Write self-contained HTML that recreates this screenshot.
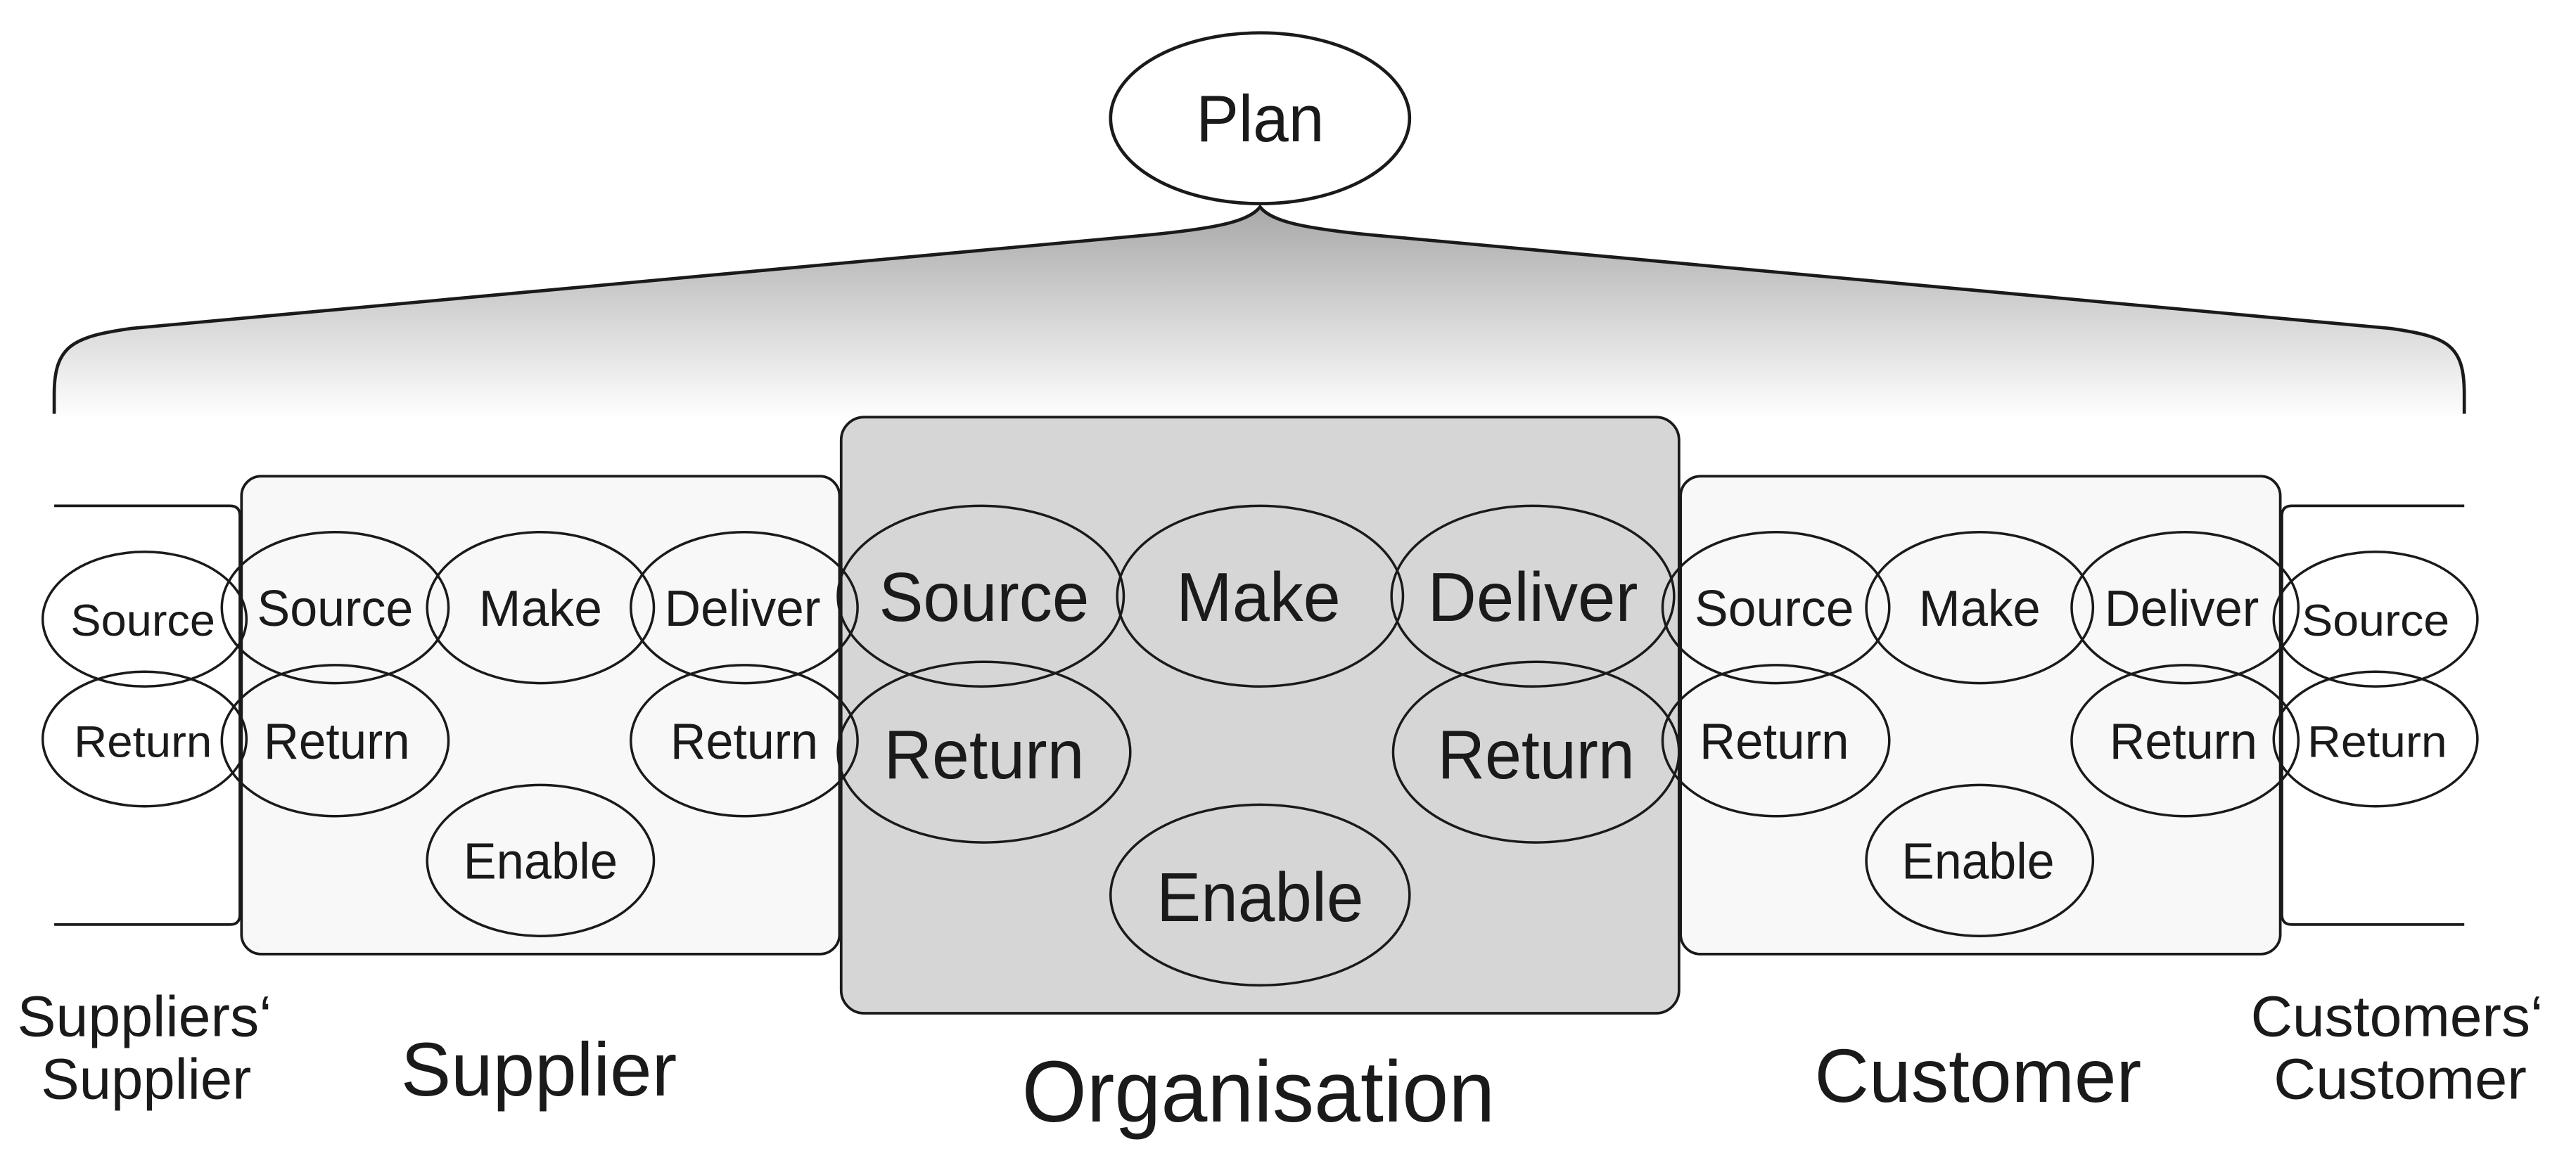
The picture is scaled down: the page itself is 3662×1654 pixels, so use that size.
<!DOCTYPE html>
<html><head><meta charset="utf-8"><style>
html,body{margin:0;padding:0;background:#fff;}
svg{display:block;}
text{font-family:"Liberation Sans",Arial,sans-serif;fill:#1a1a1a;text-anchor:middle;}
</style></head><body>
<svg width="3662" height="1654" viewBox="0 0 1568 708.2" preserveAspectRatio="none" xmlns="http://www.w3.org/2000/svg">
<defs>
<linearGradient id="g" x1="0" y1="126" x2="0" y2="255" gradientUnits="userSpaceOnUse">
<stop offset="0" stop-color="#a8a8a8"/><stop offset="0.5" stop-color="#d4d4d4"/><stop offset="1" stop-color="#ffffff"/>
</linearGradient>
</defs>
<path d="M33,255 L33,240 C33,210 45,205 80,200 L700,143 C740,139 760,135 767,126 C774,135 794,139 834,143 L1455,200 C1490,205 1500,210 1500,240 L1500,255 Z" fill="url(#g)"/>
<path d="M33,252 L33,240 C33,210 45,205 80,200 L700,143 C740,139 760,135 767,126 C774,135 794,139 834,143 L1455,200 C1490,205 1500,210 1500,240 L1500,252" fill="none" stroke="#1a1a1a" stroke-width="2"/>
<ellipse cx="767" cy="72" rx="91" ry="52" fill="#fff" stroke="#1a1a1a" stroke-width="2"/>
<text x="767" y="86" font-size="40" textLength="78" lengthAdjust="spacingAndGlyphs">Plan</text>

<g fill="none" stroke="#1a1a1a" stroke-width="1.6">
<path d="M33,308 L140,308 Q146,308 146,314 L146,557 Q146,563 140,563 L33,563"/>
<path d="M1500,308 L1395,308 Q1389,308 1389,314 L1389,557 Q1389,563 1395,563 L1500,563"/>
</g>
<rect x="147" y="290" width="364" height="291" rx="12" fill="#f7f8f7" stroke="#1a1a1a" stroke-width="1.6"/>
<rect x="1023" y="290" width="365" height="291" rx="12" fill="#f7f8f7" stroke="#1a1a1a" stroke-width="1.6"/>
<rect x="512" y="254" width="510" height="363" rx="14" fill="#d6d6d6" stroke="#1a1a1a" stroke-width="1.6"/>

<g fill="none" stroke="#1a1a1a" stroke-width="1.5">
<ellipse cx="88" cy="377" rx="62" ry="41"/>
<ellipse cx="88" cy="450" rx="62" ry="41"/>
<ellipse cx="204" cy="370" rx="69" ry="46"/>
<ellipse cx="329" cy="370" rx="69" ry="46"/>
<ellipse cx="453" cy="370" rx="69" ry="46"/>
<ellipse cx="204" cy="451" rx="69" ry="46"/>
<ellipse cx="453" cy="451" rx="69" ry="46"/>
<ellipse cx="329" cy="524" rx="69" ry="46"/>
<ellipse cx="597" cy="363" rx="87" ry="55"/>
<ellipse cx="767" cy="363" rx="87" ry="55"/>
<ellipse cx="933" cy="363" rx="86" ry="55"/>
<ellipse cx="599" cy="458" rx="89" ry="55"/>
<ellipse cx="935" cy="458" rx="87" ry="55"/>
<ellipse cx="767" cy="545" rx="91" ry="55"/>
<ellipse cx="1081" cy="370" rx="69" ry="46"/>
<ellipse cx="1205" cy="370" rx="69" ry="46"/>
<ellipse cx="1330" cy="370" rx="69" ry="46"/>
<ellipse cx="1081" cy="451" rx="69" ry="46"/>
<ellipse cx="1330" cy="451" rx="69" ry="46"/>
<ellipse cx="1205" cy="524" rx="69" ry="46"/>
<ellipse cx="1446" cy="377" rx="62" ry="41"/>
<ellipse cx="1446" cy="450" rx="62" ry="41"/>
</g>

<g font-size="27">
<text x="87" y="387" textLength="88" lengthAdjust="spacingAndGlyphs">Source</text>
<text x="87" y="461" textLength="84" lengthAdjust="spacingAndGlyphs">Return</text>
<text x="1446" y="387" textLength="90" lengthAdjust="spacingAndGlyphs">Source</text>
<text x="1447" y="461" textLength="85" lengthAdjust="spacingAndGlyphs">Return</text>
</g>
<g font-size="31">
<text x="204" y="381" textLength="95" lengthAdjust="spacingAndGlyphs">Source</text>
<text x="329" y="381" textLength="75" lengthAdjust="spacingAndGlyphs">Make</text>
<text x="452" y="381" textLength="95" lengthAdjust="spacingAndGlyphs">Deliver</text>
<text x="205" y="462" textLength="89" lengthAdjust="spacingAndGlyphs">Return</text>
<text x="453" y="462" textLength="90" lengthAdjust="spacingAndGlyphs">Return</text>
<text x="329" y="535" textLength="94" lengthAdjust="spacingAndGlyphs">Enable</text>
<text x="1080" y="381" textLength="97" lengthAdjust="spacingAndGlyphs">Source</text>
<text x="1205" y="381" textLength="74" lengthAdjust="spacingAndGlyphs">Make</text>
<text x="1328" y="381" textLength="94" lengthAdjust="spacingAndGlyphs">Deliver</text>
<text x="1080" y="462" textLength="91" lengthAdjust="spacingAndGlyphs">Return</text>
<text x="1329" y="462" textLength="90" lengthAdjust="spacingAndGlyphs">Return</text>
<text x="1204" y="535" textLength="93" lengthAdjust="spacingAndGlyphs">Enable</text>
</g>
<g font-size="42">
<text x="599" y="378" textLength="128" lengthAdjust="spacingAndGlyphs">Source</text>
<text x="766" y="378" textLength="100" lengthAdjust="spacingAndGlyphs">Make</text>
<text x="933" y="378" textLength="128" lengthAdjust="spacingAndGlyphs">Deliver</text>
<text x="599" y="474" textLength="122" lengthAdjust="spacingAndGlyphs">Return</text>
<text x="935" y="474" textLength="120" lengthAdjust="spacingAndGlyphs">Return</text>
<text x="767" y="561" textLength="126" lengthAdjust="spacingAndGlyphs">Enable</text>
</g>
<g font-size="35">
<text x="88" y="631" textLength="155" lengthAdjust="spacingAndGlyphs">Suppliers‘</text>
<text x="89" y="669" textLength="128" lengthAdjust="spacingAndGlyphs">Supplier</text>
<text x="1459" y="631" textLength="178" lengthAdjust="spacingAndGlyphs">Customers‘</text>
<text x="1461" y="669" textLength="154" lengthAdjust="spacingAndGlyphs">Customer</text>
</g>
<text x="328" y="667" font-size="46" textLength="168" lengthAdjust="spacingAndGlyphs">Supplier</text>
<text x="766" y="683" font-size="53" textLength="288" lengthAdjust="spacingAndGlyphs">Organisation</text>
<text x="1204" y="671" font-size="46" textLength="199" lengthAdjust="spacingAndGlyphs">Customer</text>
</svg>
</body></html>
